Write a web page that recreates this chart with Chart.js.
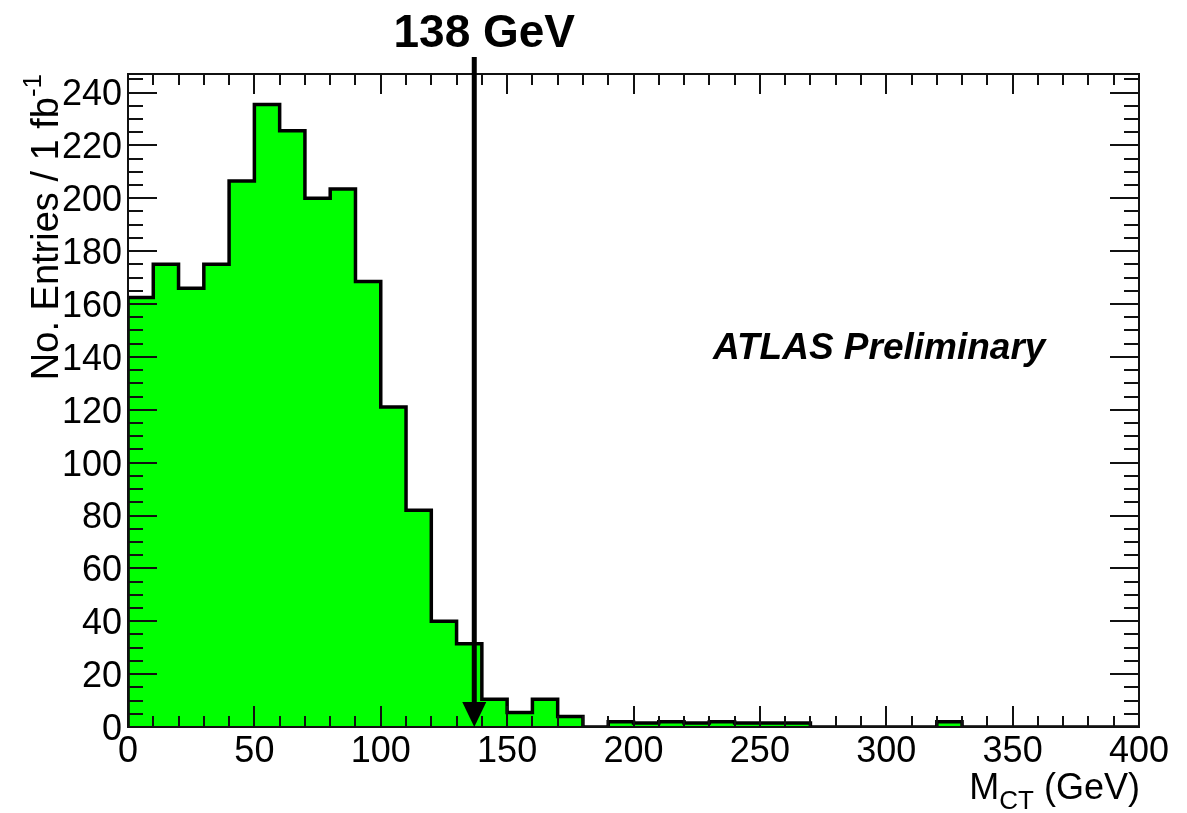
<!DOCTYPE html>
<html>
<head>
<meta charset="utf-8">
<script src="https://cdn.jsdelivr.net/npm/chart.js@4.4.1/dist/chart.umd.min.js"></script>
<style>
html,body{margin:0;padding:0;background:#ffffff;}
#wrap{position:relative;width:1187px;height:813px;}
</style>
</head>
<body>
<div id="wrap"><canvas id="c" width="1187" height="813"></canvas></div>
<script>
// ---- data ----
const binLowEdges = [0,10,20,30,40,50,60,70,80,90,100,110,120,130,140,150,160,170,180,190,
                     200,210,220,230,240,250,260,270,280,290,300,310,320,330,340,350,360,370,380,390];
const binUpperEnd = 400;
const entries = [162.5,175,166,175,206.5,235.5,225.5,200,203.5,168.5,121,82,40,31.5,10.5,5.5,10.5,4,0,2,
                 1.5,2,1.5,2,1.5,1.5,1.5,0,0,0,0,0,2,0,0,0,0,0,0,0];
const xTickValues = [0,50,100,150,200,250,300,350,400];
const yTickValues = [0,20,40,60,80,100,120,140,160,180,200,220,240];
const yAxisMax = 247;
const cutValue = 137;
const cutLabel = '138 GeV';
const xTitleMain = 'M';
const xTitleSub = 'CT';
const xTitleRest = ' (GeV)';
const yTitleMain = 'No. Entries / 1 fb';
const yTitleSup = '-1';
const stampText = 'ATLAS Preliminary';

const FONT = '"Liberation Sans", Arial, Helvetica, sans-serif';

const points = [{x: binLowEdges[0], y: 0}]
  .concat(binLowEdges.map((x, i) => ({x: x, y: entries[i]})))
  .concat([{x: binUpperEnd, y: entries[entries.length - 1]}, {x: binUpperEnd, y: 0}]);

const decorPlugin = {
  id: 'decor',
  afterDatasetsDraw(chart) {
    const ctx = chart.ctx;
    const a = chart.chartArea;
    const xs = chart.scales.x, ys = chart.scales.y;
    ctx.save();
    // frame
    ctx.strokeStyle = '#111';
    ctx.lineWidth = 2;
    ctx.strokeRect(a.left, a.top, a.right - a.left, a.bottom - a.top);
    // ticks inward, all four sides
    ctx.lineWidth = 2;
    ctx.beginPath();
    for (let v = 0; v <= xs.max + 1e-9; v += 10) {
      const px = Math.round(xs.getPixelForValue(v));
      const major = (v % 50 === 0);
      const lb = major ? 21 : 11;
      const lt = major ? 20 : 11;
      ctx.moveTo(px, a.bottom); ctx.lineTo(px, a.bottom - lb);
      ctx.moveTo(px, a.top); ctx.lineTo(px, a.top + lt);
    }
    for (let v = 0; v <= ys.max + 1e-9; v += 5) {
      const py = Math.round(ys.getPixelForValue(v));
      const major = (v % 20 === 0);
      const l = major ? 29 : 15;
      ctx.moveTo(a.left, py); ctx.lineTo(a.left + l, py);
      ctx.moveTo(a.right, py); ctx.lineTo(a.right - l, py);
    }
    ctx.stroke();

    // cut arrow
    const cx = xs.getPixelForValue(cutValue);
    ctx.strokeStyle = '#000';
    ctx.fillStyle = '#000';
    ctx.lineWidth = 5;
    ctx.beginPath();
    ctx.moveTo(cx, 57);
    ctx.lineTo(cx, a.bottom - 22);
    ctx.stroke();
    ctx.beginPath();
    ctx.moveTo(cx - 12, a.bottom - 25);
    ctx.lineTo(cx + 12, a.bottom - 25);
    ctx.lineTo(cx, a.bottom);
    ctx.closePath();
    ctx.fill();

    // cut label
    ctx.font = 'bold 46px ' + FONT;
    ctx.textAlign = 'center';
    ctx.textBaseline = 'alphabetic';
    ctx.fillText(cutLabel, cx + 10, 47);

    // ATLAS stamp
    ctx.font = 'italic bold 37px ' + FONT;
    ctx.textAlign = 'left';
    ctx.fillText(stampText, 713, 359);

    // x-axis title, right aligned to frame
    const mainF = '36px ' + FONT, subF = '26px ' + FONT;
    ctx.font = mainF; const wM = ctx.measureText(xTitleMain).width; const wR = ctx.measureText(xTitleRest).width;
    ctx.font = subF; const wS = ctx.measureText(xTitleSub).width;
    let x0 = a.right + 1 - (wM + wS + wR);
    const by = 799;
    ctx.font = mainF; ctx.fillText(xTitleMain, x0, by);
    ctx.font = subF; ctx.fillText(xTitleSub, x0 + wM, by + 10);
    ctx.font = mainF; ctx.fillText(xTitleRest, x0 + wM + wS, by);

    // y-axis title, rotated, right aligned to top of frame
    const yMainF = '38px ' + FONT, ySupF = '26px ' + FONT;
    ctx.font = yMainF; const wYM = ctx.measureText(yTitleMain).width;
    ctx.font = ySupF; const wYS = ctx.measureText(yTitleSup).width;
    ctx.translate(58, a.top);
    ctx.rotate(-Math.PI / 2);
    ctx.textAlign = 'left';
    ctx.font = yMainF; ctx.fillText(yTitleMain, -(wYM + wYS), 0);
    ctx.font = ySupF; ctx.fillText(yTitleSup, -wYS, -17);
    ctx.restore();
  }
};

new Chart(document.getElementById('c'), {
  type: 'line',
  data: {
    datasets: [{
      data: points,
      stepped: 'before',
      fill: 'origin',
      backgroundColor: '#00ff00',
      borderColor: '#000000',
      borderWidth: 3.5,
      pointRadius: 0,
      pointHoverRadius: 0,
      tension: 0
    }]
  },
  options: {
    responsive: false,
    animation: false,
    events: [],
    layout: { padding: { top: 74, right: 48, left: 0, bottom: 0 } },
    plugins: { legend: { display: false }, tooltip: { enabled: false } },
    scales: {
      x: {
        type: 'linear', min: 0, max: 400,
        grid: { display: false, drawTicks: false },
        border: { display: false },
        afterBuildTicks(s) { s.ticks = xTickValues.map(v => ({value: v})); },
        afterFit(s) { s.height = 86; },
        ticks: { color: '#000', font: { family: FONT, size: 36 }, padding: 3, maxRotation: 0, autoSkip: false }
      },
      y: {
        type: 'linear', min: 0, max: yAxisMax,
        grid: { display: false, drawTicks: false },
        border: { display: false },
        afterBuildTicks(s) { s.ticks = yTickValues.map(v => ({value: v})); },
        afterFit(s) { s.width = 128; },
        ticks: { color: '#000', font: { family: FONT, size: 36 }, padding: 6, labelOffset: 3, autoSkip: false }
      }
    }
  },
  plugins: [decorPlugin]
});
</script>
</body>
</html>
